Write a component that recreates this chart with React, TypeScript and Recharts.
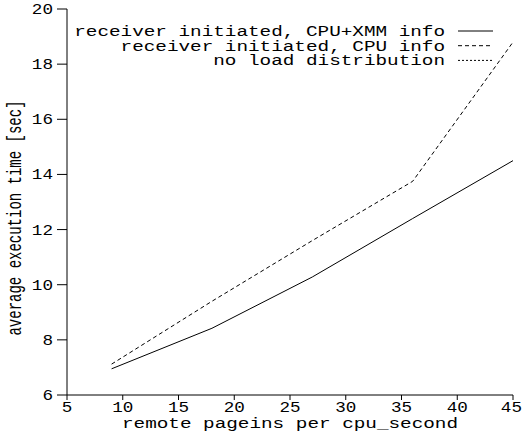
import { LineChart, Line, XAxis, YAxis } from 'recharts';

const pageins = [9, 18, 27, 36, 45];
const cpuXmm = [6.95, 8.42, 10.28, 12.4, 14.5];
const cpuOnly = [7.12, 9.4, 11.6, 13.75, 18.8];
const xTicks = [5, 10, 15, 20, 25, 30, 35, 40, 45];
const yTicks = [6, 8, 10, 12, 14, 16, 18, 20];

const series = [
    { key: 'cpuXmm', name: 'receiver initiated, CPU+XMM info', dash: undefined },
    { key: 'cpuOnly', name: 'receiver initiated, CPU info', dash: '4 3' },
    { key: 'noLoad', name: 'no load distribution', dash: '2 2' },
];

const data = pageins.map((x, i) => ({ x, cpuXmm: cpuXmm[i], cpuOnly: cpuOnly[i] }));

const FONT = '"Liberation Mono", "Courier New", monospace';
const STRETCH = 1.38;
const TICK_STRETCH = 1.26;
const FS = 14;
const WIDTH = 523;

function YTick({ x, y, payload }: any) {
    return (
        <g transform={`translate(${x},${y}) scale(${TICK_STRETCH},1)`}>
            <text textAnchor="end" dy="0.36em" fontFamily={FONT} fontSize={FS} fill="#000">
                {payload.value}
            </text>
        </g>
    );
}

function XTick({ x, y, payload }: any) {
    // keep the last label inside the picture
    const half = (String(payload.value).length * FS * 0.6 * TICK_STRETCH) / 2;
    const cx = Math.min(x, WIDTH - half - 1);
    return (
        <g transform={`translate(${cx},${y}) scale(${TICK_STRETCH},1)`}>
            <text textAnchor="middle" dy={7} fontFamily={FONT} fontSize={FS} fill="#000">
                {payload.value}
            </text>
        </g>
    );
}

export default function App() {
    return (
        <div style={{ position: 'absolute', left: 0, top: 0, width: WIDTH, height: 435, background: '#fff' }}>
            <LineChart
                width={WIDTH}
                height={435}
                data={data}
                margin={{ top: 9, right: 10, left: 0, bottom: 0 }}
            >
                <XAxis
                    dataKey="x"
                    type="number"
                    domain={[5, 45]}
                    ticks={xTicks}
                    height={40}
                    tickSize={5}
                    tickMargin={5}
                    stroke="#000"
                    tick={<XTick />}
                    allowDataOverflow
                />
                <XAxis
                    xAxisId="top"
                    orientation="top"
                    dataKey="x"
                    type="number"
                    domain={[5, 45]}
                    height={0}
                    tick={false}
                    tickLine={false}
                    stroke="#000"
                />
                <YAxis
                    type="number"
                    domain={[6, 20]}
                    ticks={yTicks}
                    width={67}
                    tickSize={10}
                    tickMargin={4}
                    stroke="#000"
                    tick={<YTick />}
                    allowDataOverflow
                />
                <YAxis
                    yAxisId="right"
                    orientation="right"
                    type="number"
                    domain={[6, 20]}
                    width={0}
                    tick={false}
                    tickLine={false}
                    stroke="#000"
                />
                {series.slice(0, 2).map((s) => (
                    <Line
                        key={s.key}
                        dataKey={s.key}
                        name={s.name}
                        stroke="#000"
                        strokeWidth={1}
                        strokeDasharray={s.dash}
                        dot={false}
                        type="linear"
                        isAnimationActive={false}
                    />
                ))}
            </LineChart>
            <svg
                width={WIDTH}
                height={435}
                style={{ position: 'absolute', left: 0, top: 0, pointerEvents: 'none' }}
            >
                {series.map((s, i) => (
                    <g key={s.key}>
                        <g transform={`translate(445,${31 + i * 14.7}) scale(${STRETCH},1)`}>
                            <text textAnchor="end" dy="0.36em" fontFamily={FONT} fontSize={FS} fill="#000">
                                {s.name}
                            </text>
                        </g>
                        <line
                            x1={458}
                            x2={493}
                            y1={31 + i * 14.7}
                            y2={31 + i * 14.7}
                            stroke="#000"
                            strokeWidth={1}
                            strokeDasharray={s.dash}
                        />
                    </g>
                ))}
                <g transform={`translate(290,428) scale(${STRETCH},1)`}>
                    <text textAnchor="middle" fontFamily={FONT} fontSize={FS} fill="#000">
                        remote pageins per cpu_second
                    </text>
                </g>
                <g transform={`translate(21,218) scale(${STRETCH},1) rotate(-90)`}>
                    <text textAnchor="middle" fontFamily={FONT} fontSize={FS} fill="#000">
                        average execution time [sec]
                    </text>
                </g>
            </svg>
        </div>
    );
}
